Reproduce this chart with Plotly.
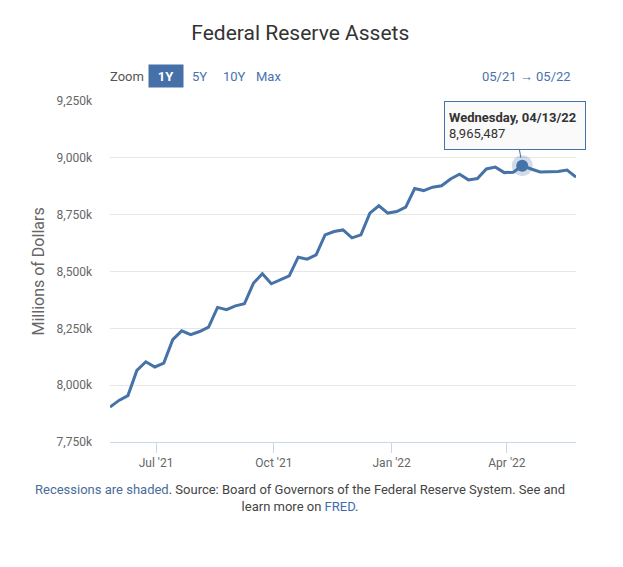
import pandas as pd
import plotly.graph_objects as go

# ---- data (Millions of Dollars, weekly, Wednesdays) ----
dates = pd.date_range("2021-05-26", periods=53, freq="7D")
assets = [
    7904000, 7933000, 7954000, 8065000, 8103000, 8080000, 8097000, 8200000,
    8239000, 8222000, 8236000, 8255000, 8342000, 8332000, 8349000, 8358000,
    8448000, 8490000, 8446000, 8463000, 8481000, 8563000, 8554000, 8573000,
    8661000, 8676000, 8683000, 8648000, 8661000, 8757000, 8789000, 8757000,
    8764000, 8783000, 8865000, 8856000, 8871000, 8877000, 8907000, 8928000,
    8903000, 8909000, 8951000, 8959000, 8935000, 8937000, 8965487, 8951000,
    8938000, 8939000, 8940000, 8946000, 8915000,
]
y_ticks = [7750000, 8000000, 8250000, 8500000, 8750000, 9000000, 9250000]
y_labels = ["7,750k", "8,000k", "8,250k", "8,500k", "8,750k", "9,000k", "9,250k"]
x_ticks = ["2021-07-01", "2021-10-01", "2022-01-01", "2022-04-01"]
x_labels = ["Jul '21", "Oct '21", "Jan '22", "Apr '22"]
zoom_buttons = ["1Y", "5Y", "10Y", "Max"]
highlight_date = "2022-04-13"

LINE = "#4572A7"
FONT = "Roboto"

hi = list(dates).index(pd.Timestamp(highlight_date))
hx, hy = dates[hi], assets[hi]

fig = go.Figure()
fig.add_trace(go.Scatter(x=dates, y=assets, mode="lines",
                         line=dict(color=LINE, width=3), hoverinfo="skip"))
fig.add_trace(go.Scatter(x=[hx], y=[hy], mode="markers",
                         marker=dict(size=21, color="rgba(69,114,167,0.25)"),
                         hoverinfo="skip"))
fig.add_trace(go.Scatter(x=[hx], y=[hy], mode="markers",
                         marker=dict(size=12, color=LINE), hoverinfo="skip"))

annotations = []
# tooltip
annotations.append(dict(
    x=hx, y=hy, xref="x", yref="y",
    text="<b>%s</b><br>%s" % (hx.strftime("%A, %m/%d/%y"), f"{hy:,}"),
    showarrow=True, arrowhead=0, arrowwidth=1, arrowcolor=LINE,
    ax=-7, ay=-40, standoff=8,
    align="left", xanchor="center", yanchor="middle",
    width=132, height=39, borderpad=4,
    bgcolor="rgba(250,250,250,0.97)", bordercolor=LINE, borderwidth=1,
    font=dict(family=FONT, size=13, color="#333333"),
))
# y axis title
annotations.append(dict(
    x=-0.1545, y=0.5, xref="paper", yref="paper", text="Millions of Dollars",
    textangle=-90, showarrow=False, xanchor="center", yanchor="middle",
    font=dict(family=FONT, size=16, color="#666666"),
))
# zoom row
annotations.append(dict(
    x=-0.004, y=1.073, xref="paper", yref="paper", text="Zoom", showarrow=False,
    xanchor="left", yanchor="middle", font=dict(family=FONT, size=13, color="#555555"),
))
btn_x = [0.1201, 0.1931, 0.2661, 0.3412]
for i, (lab, bx) in enumerate(zip(zoom_buttons, btn_x)):
    if i == 0:
        annotations.append(dict(
            x=bx, y=1.073, xref="paper", yref="paper", text="<b>%s</b>" % lab,
            showarrow=False, xanchor="center", yanchor="middle",
            width=32, height=20, bgcolor="#4570a8", borderpad=1,
            font=dict(family=FONT, size=13, color="white"),
        ))
    else:
        annotations.append(dict(
            x=bx, y=1.073, xref="paper", yref="paper", text=lab,
            showarrow=False, xanchor="center", yanchor="middle",
            font=dict(family=FONT, size=13, color="#4a72ad"),
        ))
annotations.append(dict(
    x=0.9936, y=1.073, xref="paper", yref="paper",
    text="%s \u2192 %s" % (dates[0].strftime("%m/%y"), dates[-1].strftime("%m/%y")),
    showarrow=False, xanchor="right", yanchor="middle",
    font=dict(family=FONT, size=13, color="#4a72ad"),
))
# footnote
annotations.append(dict(
    x=0.4077, y=-0.163, xref="paper", yref="paper",
    text=('<span style="color:#4a6c99">Recessions are shaded</span>. Source: Board of '
          'Governors of the Federal Reserve System. See and<br>learn more on '
          '<span style="color:#3d6db0">FRED</span>.'),
    showarrow=False, xanchor="center", yanchor="middle", align="center",
    font=dict(family=FONT, size=13, color="#444444"),
))

fig.update_layout(
    width=623, height=567,
    margin=dict(l=110, r=47, t=101, b=125),
    paper_bgcolor="white", plot_bgcolor="white",
    showlegend=False,
    title=dict(text="Federal Reserve Assets", x=0.482, xanchor="center",
               y=0.943, yanchor="middle",
               font=dict(family=FONT, size=21, color="#333333")),
    font=dict(family=FONT),
    annotations=annotations,
)
fig.update_xaxes(
    range=[dates[0], dates[-1]], tickvals=x_ticks, ticktext=x_labels,
    showgrid=False, showline=True, linecolor="#ccd6eb", linewidth=1,
    ticks="outside", ticklen=10, tickcolor="#ccd6eb",
    tickfont=dict(family=FONT, size=12, color="#666666"), zeroline=False,
)
fig.update_yaxes(
    range=[7750000, 9250000], tickvals=y_ticks, ticktext=y_labels,
    showgrid=True, gridcolor="#e6e6e6", gridwidth=1, zeroline=False,
    showline=False, ticklabelstandoff=17,
    tickfont=dict(family=FONT, size=12, color="#666666"),
)

fig.write_html("out.html")
